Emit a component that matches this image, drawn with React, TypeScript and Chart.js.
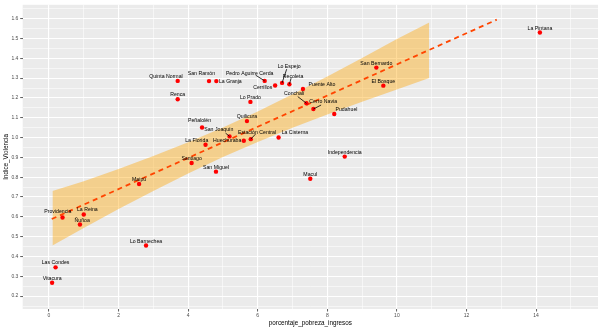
import React, { useEffect, useRef } from "react";
import { Chart, registerables } from "chart.js";
Chart.register(...registerables);

// ---- data ----
const comunas = [
  "Quinta Normal", "San Ramón", "La Granja", "Pedro Aguirre Cerda", "Lo Espejo",
  "Recoleta", "Cerrillos", "Puente Alto", "Conchalí", "Cerro Navia",
  "Pudahuel", "Lo Prado", "Quilicura", "Peñalolén", "San Joaquín",
  "Huechuraba", "Estación Central", "La Cisterna", "La Florida", "Santiago",
  "San Miguel", "Independencia", "Macul", "San Bernardo", "El Bosque",
  "La Pintana", "Renca", "Maipú", "Providencia", "La Reina",
  "Ñuñoa", "Lo Barnechea", "Las Condes", "Vitacura",
];
const pobreza = [
  3.70, 4.60, 4.81, 6.20, 6.70,
  6.91, 6.50, 7.30, 7.40, 7.60,
  8.20, 5.79, 5.69, 4.40, 5.19,
  5.60, 5.80, 6.60, 4.50, 4.10,
  4.80, 8.50, 7.51, 9.41, 9.61,
  14.11, 3.70, 2.59, 0.39, 1.00,
  0.89, 2.79, 0.19, 0.09,
];
const violencia = [
  1.286, 1.285, 1.285, 1.286, 1.276,
  1.269, 1.263, 1.245, 1.173, 1.144,
  1.119, 1.180, 1.083, 1.051, 1.006,
  0.984, 0.992, 1.000, 0.964, 0.872,
  0.828, 0.904, 0.792, 1.353, 1.262,
  1.530, 1.193, 0.766, 0.597, 0.612,
  0.561, 0.455, 0.345, 0.267,
];
const xTicks = [0, 2, 4, 6, 8, 10, 12, 14];
const xMinorTicks = [1, 3, 5, 7, 9, 11, 13, 15];
const yTicks = [0.2, 0.3, 0.4, 0.5, 0.6, 0.7, 0.8, 0.9, 1.0, 1.1, 1.2, 1.3, 1.4, 1.5, 1.6];
const yMinorTicks = [0.15, 0.25, 0.35, 0.45, 0.55, 0.65, 0.75, 0.85, 0.95, 1.05, 1.15, 1.25, 1.35, 1.45, 1.55, 1.65];
const bandX = [0.1, 1, 2, 3, 4, 5, 6, 7, 8, 9, 10, 10.93];
const bandLower = [0.455, 0.544, 0.639, 0.731, 0.819, 0.902, 0.978, 1.050, 1.117, 1.181, 1.243, 1.301];
const bandUpper = [0.730, 0.779, 0.842, 0.907, 0.977, 1.051, 1.131, 1.218, 1.308, 1.402, 1.497, 1.581];
const trendX = [0.08, 12.87];
const trendY = [0.589, 1.595];
const xTitle = "porcentaje_pobreza_ingresos";
const yTitle = "Indice_Violencia";

// ---- label layout (pixel nudges, repel-like) ----
const labelNudge: Record<string, number[]> = {
  "Quinta Normal": [-11.7, -4.3],
  "San Ramón": [-7.6, -7.3],
  "La Granja": [14, 0],
  "Pedro Aguirre Cerda": [-15, -7.7],
  "Lo Espejo": [7.1, -16.3],
  "Recoleta": [3.7, -7.7],
  "Cerrillos": [-12.4, 2.3],
  "Puente Alto": [19, -4.3],
  "Conchalí": [-12.2, -9.4],
  "Cerro Navia": [9.8, -7],
  "Pudahuel": [12.2, -4],
  "Peñalolén": [-2.5, -6.7],
  "San Joaquín": [-10.7, -6.7],
  "Huechuraba": [-16.6, 0],
  "Estación Central": [6.2, -6.4],
  "La Cisterna": [16.3, -4.7],
  "La Florida": [-8.8, -4.6],
  "Providencia": [-4.7, -5.4],
  "La Reina": [3.6, -5],
  "Ñuñoa": [2.3, -4.3],
};
const segmentStart: Record<string, number[]> = {
  "Pedro Aguirre Cerda": [-9, -5.7],
  "Lo Espejo": [4.6, -13.7],
  "Recoleta": [1.7, -6],
  "Conchalí": [-8.7, -6.7],
  "Cerro Navia": [7.7, -4],
  "San Joaquín": [-4, -3.3],
  "Estación Central": [4.7, -5],
};

const FONT = "'Liberation Sans', Arial, sans-serif";

const isMajorX = (v: number) => Math.abs(v / 2 - Math.round(v / 2)) < 1e-6;
const isMajorY = (v: number) => Math.abs(v * 10 - Math.round(v * 10)) < 1e-6;

const panelPlugin = {
  id: "panelBg",
  beforeDraw(chart: any) {
    const { ctx, chartArea } = chart;
    ctx.save();
    ctx.fillStyle = "#FFFFFF";
    ctx.fillRect(0, 0, chart.width, chart.height);
    ctx.fillStyle = "#EBEBEB";
    ctx.fillRect(chartArea.left, chartArea.top, chartArea.right - chartArea.left, chartArea.bottom - chartArea.top);
    ctx.restore();
  },
};

const labelPlugin = {
  id: "repelLabels",
  afterDatasetsDraw(chart: any) {
    const { ctx, scales } = chart;
    ctx.save();
    ctx.font = `5.2px ${FONT}`;
    ctx.textAlign = "center";
    ctx.textBaseline = "middle";
    ctx.fillStyle = "#000000";
    ctx.strokeStyle = "#000000";
    ctx.lineWidth = 0.8;
    comunas.forEach((name, i) => {
      const px = scales.x.getPixelForValue(pobreza[i]);
      const py = scales.y.getPixelForValue(violencia[i]);
      const n = labelNudge[name] || [0, -4.4];
      const seg = segmentStart[name];
      if (seg) {
        ctx.beginPath();
        ctx.moveTo(px + seg[0], py + seg[1]);
        ctx.lineTo(px, py);
        ctx.stroke();
      }
      ctx.fillText(name, px + n[0], py + n[1]);
    });
    // axis titles
    const ca = chart.chartArea;
    ctx.font = `6.3px ${FONT}`;
    ctx.fillStyle = "#000000";
    ctx.fillText(xTitle, (ca.left + ca.right) / 2, 323);
    ctx.translate(6, (ca.top + ca.bottom) / 2);
    ctx.rotate(-Math.PI / 2);
    ctx.fillText(yTitle, 0, 0);
    ctx.restore();
  },
};

export default function App() {
  const canvasRef = useRef<HTMLCanvasElement | null>(null);

  useEffect(() => {
    document.body.style.margin = "0";
    const canvas = canvasRef.current;
    if (!canvas) return;
    const chart = new Chart(canvas, {
      type: "scatter",
      data: {
        datasets: [
          {
            type: "line",
            label: "lower",
            data: bandX.map((x, i) => ({ x, y: bandLower[i] })),
            borderWidth: 0,
            pointRadius: 0,
            fill: false,
            order: 3,
          } as any,
          {
            type: "line",
            label: "upper",
            data: bandX.map((x, i) => ({ x, y: bandUpper[i] })),
            borderWidth: 0,
            borderColor: "rgba(0,0,0,0)",
            pointRadius: 0,
            fill: "-1",
            backgroundColor: "rgba(255,165,0,0.4)",
            order: 2,
          } as any,
          {
            type: "line",
            label: "trend",
            data: trendX.map((x, i) => ({ x, y: trendY[i] })),
            borderColor: "#FF4500",
            borderWidth: 1.8,
            borderDash: [5, 4],
            pointRadius: 0,
            fill: false,
            order: 1,
          } as any,
          {
            label: "comunas",
            data: pobreza.map((x, i) => ({ x, y: violencia[i] })),
            backgroundColor: "#FF0000",
            borderWidth: 0,
            pointRadius: 2.2,
            order: 0,
          },
        ],
      },
      options: {
        responsive: false,
        animation: false,
        devicePixelRatio: 1,
        layout: { padding: { top: 2.3, right: 3, left: 0, bottom: 0 } },
        plugins: { legend: { display: false }, tooltip: { enabled: false } },
        scales: {
          x: {
            type: "linear",
            min: -0.755,
            max: 15.78,
            afterFit(scale: any) { scale.height = 20; },
            afterBuildTicks(scale: any) {
              scale.ticks = [...xTicks, ...xMinorTicks].sort((a, b) => a - b).map((v) => ({ value: v }));
            },
            border: { display: false },
            grid: {
              color: "#FFFFFF",
              lineWidth: (c: any) => (c.tick && isMajorX(c.tick.value) ? 1.1 : 0.55),
              tickColor: (c: any) => (c.tick && isMajorX(c.tick.value) ? "#333333" : "rgba(0,0,0,0)"),
              tickLength: 2.5,
              tickWidth: 0.8,
            },
            ticks: {
              padding: 1.5,
              color: "#4D4D4D",
              font: { family: FONT, size: 5 },
              maxRotation: 0,
              autoSkip: false,
              callback: (v: any) => (isMajorX(Number(v)) ? String(v) : ""),
            },
          },
          y: {
            type: "linear",
            min: 0.1349,
            max: 1.670,
            afterFit(scale: any) { scale.width = 22.7; },
            afterBuildTicks(scale: any) {
              scale.ticks = [...yTicks, ...yMinorTicks].sort((a, b) => a - b).map((v) => ({ value: v }));
            },
            border: { display: false },
            grid: {
              color: "#FFFFFF",
              lineWidth: (c: any) => (c.tick && isMajorY(c.tick.value) ? 1.1 : 0.55),
              tickColor: (c: any) => (c.tick && isMajorY(c.tick.value) ? "#333333" : "rgba(0,0,0,0)"),
              tickLength: 2.5,
              tickWidth: 0.8,
            },
            ticks: {
              padding: 1.8,
              color: "#4D4D4D",
              font: { family: FONT, size: 5 },
              autoSkip: false,
              callback: (v: any) => (isMajorY(Number(v)) ? Number(v).toFixed(1) : ""),
            },
          },
        },
      },
      plugins: [panelPlugin, labelPlugin],
    });
    return () => chart.destroy();
  }, []);

  return (
    <canvas
      ref={canvasRef}
      width={602}
      height={329}
      style={{ display: "block", width: 602, height: 329 }}
    />
  );
}
